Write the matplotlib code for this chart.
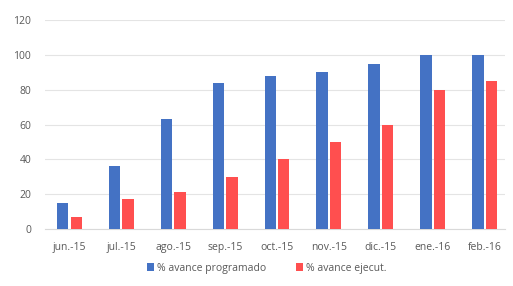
import matplotlib
matplotlib.use("Agg")
import matplotlib.pyplot as plt
import numpy as np

categories = ["jun.-15", "jul.-15", "ago.-15", "sep.-15", "oct.-15", "nov.-15", "dic.-15", "ene.-16", "feb.-16"]
programado = [15, 36, 63, 84, 88, 90, 95, 100, 100]
ejecutado = [7, 17, 21, 30, 40, 50, 60, 80, 85]
yticks = [0, 20, 40, 60, 80, 100, 120]

plt.rcParams['font.family'] = ['Open Sans', 'DejaVu Sans']
fig = plt.figure(figsize=(5.13, 2.86), dpi=100)
ax = fig.add_axes([0.088, 0.199, 0.897, 0.731])
x = np.arange(len(categories))
w = 0.22
ax.bar(x - 0.13, programado, w, color="#4472C4", label="% avance programado", zorder=3)
ax.bar(x + 0.13, ejecutado, w, color="#FF4F4F", label="% avance ejecut.", zorder=3)
ax.set_xlim(-0.47, 8.4)
ax.set_ylim(0, 120)
ax.set_yticks(yticks)
ax.set_xticks(x)
ax.set_xticklabels(categories)
ax.grid(axis='y', color="#e4e4e4", linewidth=0.8, zorder=0)
for s in ax.spines.values():
    s.set_visible(False)
ax.spines['bottom'].set_visible(True)
ax.spines['bottom'].set_color("#d9d9d9")
ax.tick_params(length=0, colors="#595959", labelsize=7.5, pad=9)
ax.tick_params(axis='y', pad=10)
fig.legend(loc="lower center", bbox_to_anchor=(0.52, 0.01), ncol=2, frameon=False,
           fontsize=7.5, labelcolor="#595959", handlelength=0.7, handleheight=0.7,
           columnspacing=2.8, handletextpad=0.3)
fig.savefig("out.png", dpi=100)
